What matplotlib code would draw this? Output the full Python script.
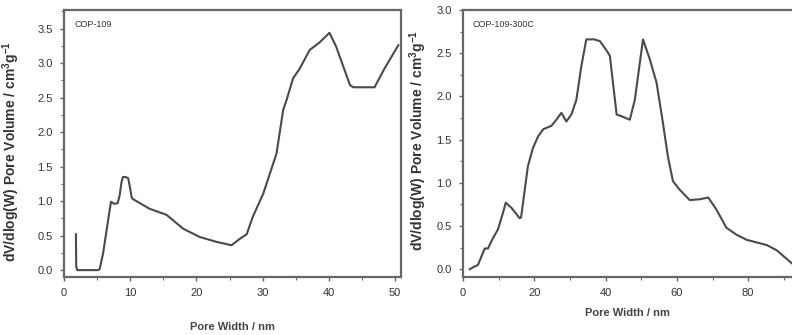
import matplotlib
matplotlib.use("Agg")
import matplotlib.pyplot as plt
from matplotlib.ticker import MultipleLocator

# COP-109
width_a = [1.8, 1.85, 2.0, 3.5, 5.2, 5.4, 5.9, 6.5, 6.9, 7.1, 7.6, 8.1, 8.4, 8.7, 8.9, 9.3, 9.7, 10.0,
           10.2, 10.4, 12.9, 15.5, 18.0, 20.5, 23.0, 25.3, 26.5, 27.6, 28.5, 30.1, 32.1, 33.1,
           33.6, 34.6, 35.6, 37.1, 38.6, 40.1, 41.1, 43.2, 43.7, 46.9, 48.4, 50.5]
vol_a = [0.52, 0.05, 0.0, 0.0, 0.0, 0.02, 0.24, 0.62, 0.87, 0.99, 0.96, 0.97, 1.08, 1.28, 1.35, 1.35, 1.33, 1.18,
         1.06, 1.03, 0.89, 0.80, 0.60, 0.48, 0.41, 0.36, 0.45, 0.52, 0.77, 1.11, 1.69, 2.32,
         2.46, 2.78, 2.92, 3.19, 3.30, 3.44, 3.24, 2.68, 2.65, 2.65, 2.92, 3.26]

# COP-109-300C
width_b = [1.9, 2.3, 4.2, 5.2, 6.1, 7.0, 8.4, 9.8, 11.2, 12.0, 13.6, 15.9, 16.3, 18.2, 19.6, 21.1,
           22.5, 24.8, 26.2, 27.6, 29.0, 30.4, 31.8, 33.2, 34.6, 36.8, 38.4, 40.3, 41.2, 43.1,
           44.5, 46.8, 48.2, 50.5, 52.4, 54.3, 56.1, 57.5, 58.9, 60.8, 63.6, 66.5, 68.8, 71.1,
           73.9, 76.7, 79.6, 82.4, 85.2, 88.0, 92.2]
vol_b = [0.0, 0.01, 0.05, 0.15, 0.24, 0.24, 0.36, 0.46, 0.65, 0.77, 0.71, 0.59, 0.60, 1.19, 1.40, 1.54,
         1.62, 1.66, 1.73, 1.81, 1.71, 1.79, 1.96, 2.35, 2.66, 2.66, 2.64, 2.53, 2.47, 1.79,
         1.77, 1.73, 1.96, 2.66, 2.43, 2.16, 1.69, 1.30, 1.02, 0.92, 0.80, 0.81, 0.83, 0.69,
         0.48, 0.40, 0.34, 0.31, 0.28, 0.22, 0.07]

labels = ["COP-109", "COP-109-300C"]
ylabel = r"dV/dlog(W) Pore Volume / cm$^3$g$^{-1}$"
xlabel = "Pore Width / nm"

plt.rcParams['font.family'] = ['Liberation Sans', 'DejaVu Sans']
plt.rcParams['mathtext.fontset'] = 'custom'
plt.rcParams['mathtext.rm'] = 'Liberation Sans:bold'
plt.rcParams['mathtext.it'] = 'Liberation Sans:bold'

fig = plt.figure(figsize=(7.92, 3.35), dpi=100)
ax1 = fig.add_axes([64/792, 58/335, 337/792, 267/335])
ax2 = fig.add_axes([463/792, 58/335, 329/792, 267/335])

spine_c = '#666666'
line_c = '#4a4a4a'
text_c = '#333333'

ax1.plot(width_a, vol_a, color=line_c, lw=1.5)
ax2.plot(width_b, vol_b, color=line_c, lw=1.5)

ax1.set_xlim(0, 50.9)
ax1.set_ylim(-0.1, 3.77)
ax1.xaxis.set_major_locator(MultipleLocator(10))
ax1.xaxis.set_minor_locator(MultipleLocator(5))
ax1.yaxis.set_major_locator(MultipleLocator(0.5))
ax1.yaxis.set_minor_locator(MultipleLocator(0.25))

ax2.set_xlim(0, 92.3)
ax2.set_ylim(-0.09, 3.0)
ax2.xaxis.set_major_locator(MultipleLocator(20))
ax2.xaxis.set_minor_locator(MultipleLocator(10))
ax2.yaxis.set_major_locator(MultipleLocator(0.5))
ax2.yaxis.set_minor_locator(MultipleLocator(0.25))
ax2.spines['right'].set_visible(False)

for ax, lab in zip([ax1, ax2], labels):
    for s in ax.spines.values():
        s.set_color(spine_c)
        s.set_linewidth(1.6)
    ax.tick_params(which='major', direction='out', length=3, width=1.0, color=spine_c,
                   labelsize=8, labelcolor=text_c, pad=5)
    ax.tick_params(which='minor', direction='out', length=2, width=0.8, color=spine_c)
    ax.yaxis.set_major_formatter(matplotlib.ticker.FormatStrFormatter('%.1f'))
    ax.text(0.03, 0.945, lab, transform=ax.transAxes, fontsize=6.5, color=text_c,
            ha='left', va='center')
    ax.set_ylabel(ylabel, fontsize=10, fontweight='bold', color=text_c)

ax1.set_xlabel(xlabel, fontsize=8, fontweight='bold', color='#444444', labelpad=17)
ax2.set_xlabel(xlabel, fontsize=8, fontweight='bold', color='#444444', labelpad=7)
ax1.yaxis.set_label_coords(-42/337, 0.47)
ax2.yaxis.set_label_coords(-34/329, 0.51)

fig.savefig("out.png", dpi=100)
